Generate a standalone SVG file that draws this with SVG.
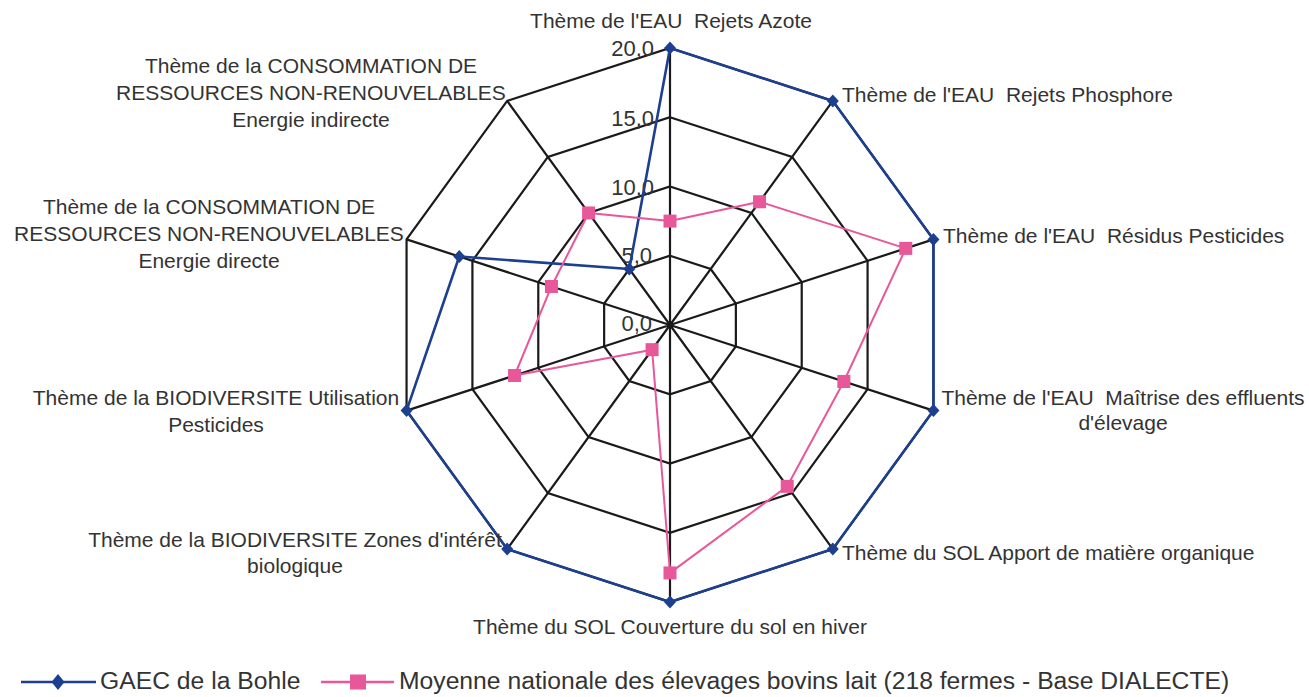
<svg xmlns="http://www.w3.org/2000/svg" xmlns:xlink="http://www.w3.org/1999/xlink" width="1309" height="697" viewBox="0 0 1309 697">
<style>
.grid{fill:none;stroke:#1a1a1a;stroke-width:2.2}
.lbl{font-family:"Liberation Sans",Arial,sans-serif;font-size:21px;fill:#333333;white-space:pre}
.val{font-family:"Liberation Sans",Arial,sans-serif;font-size:22px;fill:#333333;text-anchor:end}
.leg{font-family:"Liberation Sans",Arial,sans-serif;font-size:24.7px;fill:#333333}
.blue{fill:none;stroke:#1c3f8f;stroke-width:2.6;stroke-linejoin:round}
.pink{fill:none;stroke:#e8579a;stroke-width:2;stroke-linejoin:round}
.mid{text-anchor:middle}
</style>
<defs>
<polygon id="dia" points="0,-6.5 6,0 0,6.5 -6,0" fill="#1c3f8f"/>
<rect id="sq" x="-6.5" y="-6.5" width="13" height="13" fill="#e8579a"/>
</defs>
<rect width="1309" height="697" fill="#ffffff"/>
<g id="grid">
<polygon class="grid" points="670,48 832.82,100.9 933.44,239.4 933.44,410.6 832.82,549.1 670,602 507.18,549.1 406.56,410.6 406.56,239.4 507.18,100.9"/>
<polygon class="grid" points="670,117.25 792.11,156.93 867.58,260.8 867.58,389.2 792.11,493.07 670,532.75 547.89,493.07 472.42,389.2 472.42,260.8 547.89,156.93"/>
<polygon class="grid" points="670,186.5 751.41,212.95 801.72,282.2 801.72,367.8 751.41,437.05 670,463.5 588.59,437.05 538.28,367.8 538.28,282.2 588.59,212.95"/>
<polygon class="grid" points="670,255.75 710.7,268.98 735.86,303.6 735.86,346.4 710.7,381.02 670,394.25 629.3,381.02 604.14,346.4 604.14,303.6 629.3,268.98"/>
<path class="grid" d="M670,325L670,48M670,325L832.82,100.9M670,325L933.44,239.4M670,325L933.44,410.6M670,325L832.82,549.1M670,325L670,602M670,325L507.18,549.1M670,325L406.56,410.6M670,325L406.56,239.4M670,325L507.18,100.9"/>
</g>
<g id="scale">
<text class="val" x="654" y="56">20,0</text>
<text class="val" x="654" y="126">15,0</text>
<text class="val" x="654" y="195">10,0</text>
<text class="val" x="652" y="263">5,0</text>
<text class="val" x="652" y="331">0,0</text>
</g>
<g id="series-gaec">
<polygon class="blue" points="670,48 832.82,100.9 933.44,239.4 933.44,410.6 832.82,549.1 670,602 507.18,549.1 406.56,410.6 459.25,256.52 629.3,268.98"/>
<use xlink:href="#dia" x="670" y="48"/>
<use xlink:href="#dia" x="832.82" y="100.9"/>
<use xlink:href="#dia" x="933.44" y="239.4"/>
<use xlink:href="#dia" x="933.44" y="410.6"/>
<use xlink:href="#dia" x="832.82" y="549.1"/>
<use xlink:href="#dia" x="670" y="602"/>
<use xlink:href="#dia" x="507.18" y="549.1"/>
<use xlink:href="#dia" x="406.56" y="410.6"/>
<use xlink:href="#dia" x="459.25" y="256.52"/>
<use xlink:href="#dia" x="629.3" y="268.98"/>
</g>
<g id="series-moyenne">
<polygon class="pink" points="670,221.1 759.55,201.75 905.77,248.4 843.87,381.49 787.23,486.35 670,572.92 652.09,349.65 514.57,375.5 551.45,286.48 588.59,212.95"/>
<use xlink:href="#sq" x="670" y="221.1"/>
<use xlink:href="#sq" x="759.55" y="201.75"/>
<use xlink:href="#sq" x="905.77" y="248.4"/>
<use xlink:href="#sq" x="843.87" y="381.49"/>
<use xlink:href="#sq" x="787.23" y="486.35"/>
<use xlink:href="#sq" x="670" y="572.92"/>
<use xlink:href="#sq" x="652.09" y="349.65"/>
<use xlink:href="#sq" x="514.57" y="375.5"/>
<use xlink:href="#sq" x="551.45" y="286.48"/>
<use xlink:href="#sq" x="588.59" y="212.95"/>
</g>
<g id="label-azote"><text class="lbl mid" x="671" y="28">Thème de l'EAU  Rejets Azote</text></g>
<g id="label-phosphore"><text class="lbl" x="842" y="102">Thème de l'EAU  Rejets Phosphore</text></g>
<g id="label-residus"><text class="lbl" x="943" y="243">Thème de l'EAU  Résidus Pesticides</text></g>
<g id="label-maitrise"><text class="lbl mid" x="1123" y="405">Thème de l'EAU  Maîtrise des effluents</text><text class="lbl mid" x="1123" y="430">d'élevage</text></g>
<g id="label-apport"><text class="lbl" x="842" y="560">Thème du SOL Apport de matière organique</text></g>
<g id="label-couverture"><text class="lbl mid" x="670" y="634">Thème du SOL Couverture du sol en hiver</text></g>
<g id="label-zones"><text class="lbl mid" x="295" y="547">Thème de la BIODIVERSITE Zones d'intérêt</text><text class="lbl mid" x="295" y="573">biologique</text></g>
<g id="label-utilisation"><text class="lbl mid" x="216" y="405">Thème de la BIODIVERSITE Utilisation</text><text class="lbl mid" x="216" y="432">Pesticides</text></g>
<g id="label-energie-directe"><text class="lbl mid" x="209" y="214">Thème de la CONSOMMATION DE</text><text class="lbl mid" x="209" y="241">RESSOURCES NON-RENOUVELABLES</text><text class="lbl mid" x="209" y="268">Energie directe</text></g>
<g id="label-energie-indirecte"><text class="lbl mid" x="311" y="73">Thème de la CONSOMMATION DE</text><text class="lbl mid" x="311" y="100">RESSOURCES NON-RENOUVELABLES</text><text class="lbl mid" x="311" y="127">Energie indirecte</text></g>
<g id="legend">
<line x1="21" y1="682" x2="96" y2="682" stroke="#1c3f8f" stroke-width="2.6"/>
<polygon points="58,674 64.5,682 58,690 51.5,682" fill="#1c3f8f"/>
<text class="leg" x="100" y="689">GAEC de la Bohle</text>
<line x1="321" y1="682" x2="394" y2="682" stroke="#e8579a" stroke-width="2.6"/>
<rect x="350" y="674.5" width="16" height="15" fill="#e8579a"/>
<text class="leg" x="399" y="689">Moyenne nationale des élevages bovins lait (218 fermes - Base DIALECTE)</text>
</g>
</svg>
